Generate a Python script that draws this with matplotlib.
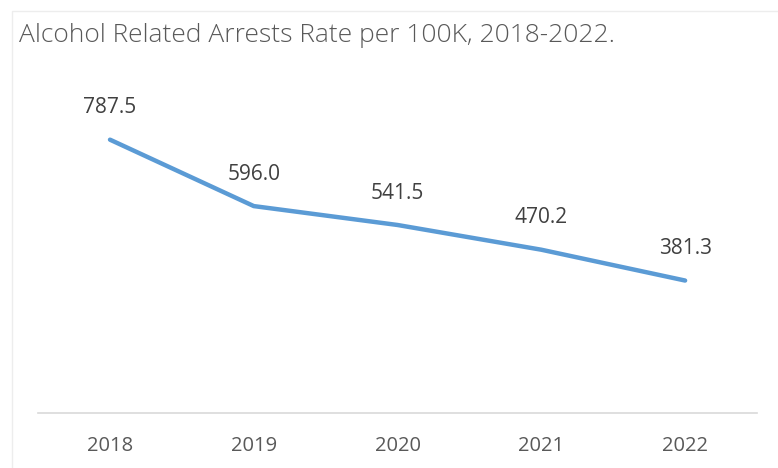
import matplotlib.pyplot as plt
from matplotlib.patches import Rectangle

years = ['2018', '2019', '2020', '2021', '2022']
rates = [787.5, 596.0, 541.5, 470.2, 381.3]

plt.rcParams['font.family'] = ['Open Sans', 'DejaVu Sans']

fig = plt.figure(figsize=(7.78, 4.68), dpi=100)
ax = fig.add_axes([0.049, 0.118, 0.924, 0.741])

x = range(len(years))
ax.plot(x, rates, color='#5B9BD5', linewidth=3.2, solid_capstyle='round')

# data labels above each point
for xi, v in zip(x, rates):
    ax.annotate(f'{v:.1f}', (xi, v), xytext=(0, 23), textcoords='offset points',
                ha='center', va='center', fontsize=15, color='#404040')

ax.set_xlim(-0.5, len(years) - 0.5)
ax.set_ylim(0, 1000)
ax.set_xticks(list(x))
ax.set_xticklabels(years, fontsize=14.5, color='#595959')
ax.tick_params(axis='x', length=0, pad=17)
ax.set_yticks([])
for s in ['top', 'right', 'left']:
    ax.spines[s].set_visible(False)
ax.spines['bottom'].set_color('#D9D9D9')
ax.spines['bottom'].set_linewidth(1.2)

fig.text(0.025, 0.910, 'Alcohol Related Arrests Rate per 100K, 2018-2022.',
         fontsize=19, color='#595959', ha='left', va='baseline',
         fontweight='light')

# faint frame of the chart area (cut off at right and bottom)
fig.patches.append(Rectangle((12 / 778, -0.01), 1.0, 1 - 11 / 468 + 0.01,
                             transform=fig.transFigure, fill=False,
                             edgecolor='#EDEDED', linewidth=1))

fig.savefig('out.png', dpi=100)
